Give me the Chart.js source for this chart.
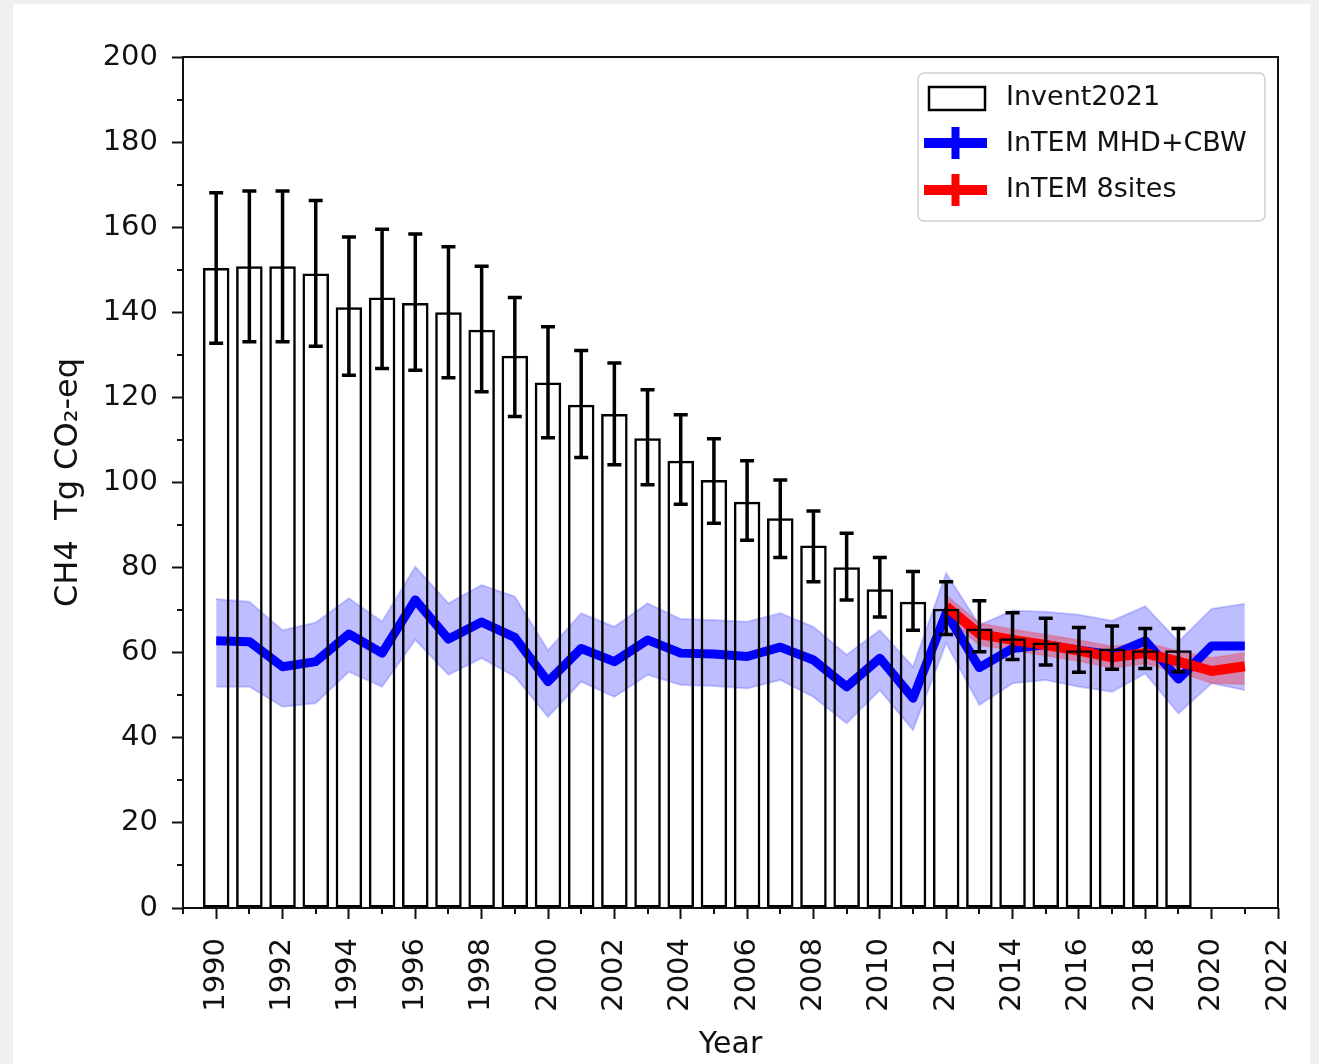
<!DOCTYPE html>
<html><head><meta charset="utf-8">
<script src="https://cdn.jsdelivr.net/npm/chart.js@4.4.0/dist/chart.umd.min.js"></script>
<style>
html,body{margin:0;padding:0;background:#f0f0f0;width:1319px;height:1064px;overflow:hidden;}
#panel{position:absolute;left:13px;top:4px;width:1297px;height:1060px;background:#fff;}
#wrap{position:absolute;left:0;top:0;width:1319px;height:1064px;}
</style></head><body>
<div id="panel"></div>
<div id="wrap"><canvas id="c" width="1319" height="1064"></canvas></div>
<script>
// ---- data ----
const inventYears = [1990,1991,1992,1993,1994,1995,1996,1997,1998,1999,2000,2001,2002,2003,2004,2005,2006,2007,2008,2009,2010,2011,2012,2013,2014,2015,2016,2017,2018,2019];
const inventValues = [150.4,150.8,150.8,149.1,141.2,143.5,142.2,140.0,135.9,129.8,123.5,118.3,116.1,110.4,105.1,100.6,95.5,91.6,85.2,80.1,74.9,72.0,70.3,65.7,63.4,62.4,60.6,61.0,60.6,60.6];
const inventUpper = [168.1,168.5,168.5,166.3,157.7,159.5,158.4,155.4,150.8,143.5,136.6,131.0,128.1,121.8,115.9,110.3,105.1,100.6,93.3,88.1,82.4,79.1,76.7,72.2,69.4,68.1,65.9,66.3,65.7,65.7];
const inventLower = [132.7,133.1,133.1,132.0,125.2,126.8,126.4,124.6,121.3,115.5,110.5,105.9,104.2,99.5,94.9,90.4,86.4,82.4,76.7,72.4,68.4,65.3,64.3,60.2,58.4,57.1,55.4,56.1,56.3,55.5];

const mhdYears = [1990,1991,1992,1993,1994,1995,1996,1997,1998,1999,2000,2001,2002,2003,2004,2005,2006,2007,2008,2009,2010,2011,2012,2013,2014,2015,2016,2017,2018,2019,2020,2021];
const mhdValues = [62.8,62.6,56.7,57.9,64.4,59.9,72.4,63.2,67.2,63.6,53.2,61.0,57.9,63.0,59.9,59.7,59.1,61.3,58.3,52.0,58.7,49.3,69.3,56.5,61.0,61.9,60.6,59.5,62.8,53.8,61.6,61.6];
const mhdUpper = [72.6,72.0,65.3,67.1,72.8,67.3,80.2,71.6,75.9,73.2,60.6,69.3,66.1,71.6,67.9,67.7,67.3,69.3,66.1,59.5,65.3,56.7,78.7,66.5,69.9,69.6,68.9,67.5,70.9,62.6,70.3,71.5];
const mhdLower = [52.0,52.0,47.3,48.1,55.5,52.0,63.0,54.8,58.7,54.4,44.9,53.2,49.6,54.8,52.4,52.2,51.6,53.6,49.6,43.4,51.2,41.8,62.2,47.7,52.8,53.6,52.0,50.8,55.1,45.7,52.8,51.2];

const sitesYears = [2012,2013,2014,2015,2016,2017,2018,2019,2020,2021];
const sitesValues = [70.9,64.4,63.0,61.8,60.5,58.9,59.9,57.9,55.7,56.8];
const sitesUpper = [73.5,67.0,65.5,64.3,63.0,61.5,62.4,60.4,58.8,60.0];
const sitesLower = [68.3,61.8,60.5,59.3,58.0,56.4,57.4,55.4,52.8,52.6];

const xTickYears = [1990,1992,1994,1996,1998,2000,2002,2004,2006,2008,2010,2012,2014,2016,2018,2020,2022];
const yTickValues = [0,20,40,60,80,100,120,140,160,180,200];
const xMinorYears = [1989,1991,1993,1995,1997,1999,2001,2003,2005,2007,2009,2011,2013,2015,2017,2019,2021];
const yMinorValues = [10,30,50,70,90,110,130,150,170,190];

const legendLabels = ['Invent2021','InTEM MHD+CBW','InTEM 8sites'];

// ---- helpers ----
const toXY = (xs, ys) => xs.map((x, i) => ({x: x, y: ys[i]}));
const FONT = "'DejaVu Sans', sans-serif";
const TXT = '#111';

const extrasPlugin = {
  id: 'extras',
  afterDatasetsDraw(chart) {
    const {ctx, chartArea: a, scales: {x, y}} = chart;
    ctx.save();
    // error bars
    ctx.strokeStyle = '#000';
    ctx.lineWidth = 3.5;
    ctx.lineCap = 'butt';
    inventYears.forEach((yr, i) => {
      const px = x.getPixelForValue(yr);
      const t = y.getPixelForValue(inventUpper[i]);
      const b = y.getPixelForValue(inventLower[i]);
      ctx.beginPath();
      ctx.moveTo(px, t); ctx.lineTo(px, b);
      ctx.moveTo(px - 7, t); ctx.lineTo(px + 7, t);
      ctx.moveTo(px - 7, b); ctx.lineTo(px + 7, b);
      ctx.stroke();
    });
    // frame
    ctx.lineWidth = 2;
    ctx.strokeStyle = '#111';
    ctx.strokeRect(a.left, a.top, a.right - a.left, a.bottom - a.top);
    // minor ticks
    ctx.beginPath();
    yMinorValues.forEach(v => {
      const py = Math.round(y.getPixelForValue(v));
      ctx.moveTo(a.left - 6, py); ctx.lineTo(a.left, py);
    });
    xMinorYears.forEach(v => {
      const px = Math.round(x.getPixelForValue(v));
      ctx.moveTo(px, a.bottom); ctx.lineTo(px, a.bottom + 6);
    });
    ctx.stroke();
    ctx.restore();
  },
  afterDraw(chart) {
    const ctx = chart.ctx;
    ctx.save();
    // legend box
    const bx = 918, by = 73, bw = 347, bh = 148, r = 6;
    ctx.beginPath();
    ctx.moveTo(bx + r, by);
    ctx.arcTo(bx + bw, by, bx + bw, by + bh, r);
    ctx.arcTo(bx + bw, by + bh, bx, by + bh, r);
    ctx.arcTo(bx, by + bh, bx, by, r);
    ctx.arcTo(bx, by, bx + bw, by, r);
    ctx.closePath();
    ctx.fillStyle = 'rgba(255,255,255,0.85)';
    ctx.fill();
    ctx.strokeStyle = '#d0d0d0';
    ctx.lineWidth = 1.5;
    ctx.stroke();
    // entry 1: bar patch
    ctx.fillStyle = '#fff';
    ctx.fillRect(929, 87, 56, 23);
    ctx.strokeStyle = '#000';
    ctx.lineWidth = 2.5;
    ctx.strokeRect(929, 87, 56, 23);
    // entry 2 & 3: errorbar line handles
    const handles = [[143, 'rgb(0,0,255)'], [190, 'rgb(255,0,0)']];
    handles.forEach(([cy, col]) => {
      ctx.strokeStyle = col;
      ctx.lineWidth = 10;
      ctx.beginPath(); ctx.moveTo(924, cy); ctx.lineTo(987, cy); ctx.stroke();
      ctx.lineWidth = 8;
      ctx.beginPath(); ctx.moveTo(955.5, cy - 16); ctx.lineTo(955.5, cy + 16); ctx.stroke();
    });
    ctx.fillStyle = TXT;
    ctx.font = "27px " + FONT;
    ctx.textBaseline = 'middle';
    ctx.textAlign = 'left';
    ctx.fillText(legendLabels[0], 1006, 98);
    ctx.fillText(legendLabels[1], 1006, 144);
    ctx.fillText(legendLabels[2], 1006, 190);
    ctx.restore();
  }
};

new Chart(document.getElementById('c'), {
  type: 'bar',
  data: {
    datasets: [
      {type: 'bar', label: legendLabels[0], data: toXY(inventYears, inventValues),
       backgroundColor: 'rgba(255,255,255,0)', borderColor: '#000', borderWidth: 2.5,
       borderSkipped: false, barPercentage: 0.8, categoryPercentage: 1.0, order: 0},
      {type: 'line', label: 'mhdLower', data: toXY(mhdYears, mhdLower),
       borderColor: 'rgba(0,0,255,0.18)', borderWidth: 2, pointRadius: 0, fill: false, tension: 0, order: 6},
      {type: 'line', label: 'mhdUpper', data: toXY(mhdYears, mhdUpper),
       borderColor: 'rgba(0,0,255,0.18)', borderWidth: 2, pointRadius: 0, tension: 0,
       backgroundColor: 'rgba(0,0,255,0.26)', fill: '-1', order: 5},
      {type: 'line', label: 'sitesLower', data: toXY(sitesYears, sitesLower),
       borderColor: 'rgba(255,0,0,0.15)', borderWidth: 2, pointRadius: 0, fill: false, tension: 0, order: 4},
      {type: 'line', label: 'sitesUpper', data: toXY(sitesYears, sitesUpper),
       borderColor: 'rgba(255,0,0,0.15)', borderWidth: 2, pointRadius: 0, tension: 0,
       backgroundColor: 'rgba(255,0,0,0.3)', fill: '-1', order: 3},
      {type: 'line', label: legendLabels[1], data: toXY(mhdYears, mhdValues),
       borderColor: 'rgb(0,0,255)', borderWidth: 9, pointRadius: 0, fill: false, tension: 0,
       borderJoinStyle: 'round', borderCapStyle: 'butt', order: 2},
      {type: 'line', label: legendLabels[2], data: toXY(sitesYears, sitesValues),
       borderColor: 'rgb(255,0,0)', borderWidth: 10, pointRadius: 0, fill: false, tension: 0,
       borderJoinStyle: 'round', borderCapStyle: 'butt', order: 1}
    ]
  },
  options: {
    responsive: false,
    animation: false,
    devicePixelRatio: 1,
    layout: {padding: {left: 0, right: 41, top: 57, bottom: 0}},
    plugins: {legend: {display: false}, tooltip: {enabled: false}},
    scales: {
      x: {
        type: 'linear', min: 1989, max: 2022, offset: false,
        afterBuildTicks: s => { s.ticks = xTickYears.map(v => ({value: v})); },
        afterFit: s => { s.height = 156; s.paddingRight = 0; s.paddingLeft = 0; },
        grid: {drawOnChartArea: false, drawTicks: true, tickLength: 11, tickColor: '#111', tickWidth: 2, offset: false},
        border: {display: false},
        ticks: {autoSkip: false, maxRotation: 90, minRotation: 90, padding: 19, color: TXT,
                font: {family: FONT, size: 29}, callback: v => String(v)},
        title: {display: true, text: 'Year', color: TXT, font: {family: FONT, size: 30}, padding: {top: 0, bottom: 1}}
      },
      y: {
        type: 'linear', min: 0, max: 200,
        afterBuildTicks: s => { s.ticks = yTickValues.map(v => ({value: v})); },
        afterFit: s => { s.width = 183; s.paddingTop = 0; s.paddingBottom = 0; },
        grid: {drawOnChartArea: false, drawTicks: true, tickLength: 11, tickColor: '#111', tickWidth: 2},
        border: {display: false},
        ticks: {padding: 14, color: TXT, font: {family: FONT, size: 29}, callback: v => String(v)},
        title: {display: true, text: 'CH4  Tg CO\u2082-eq', color: TXT, font: {family: FONT, size: 32}, padding: {top: 49, bottom: 0}}
      }
    }
  },
  plugins: [extrasPlugin]
});
</script>
</body></html>
